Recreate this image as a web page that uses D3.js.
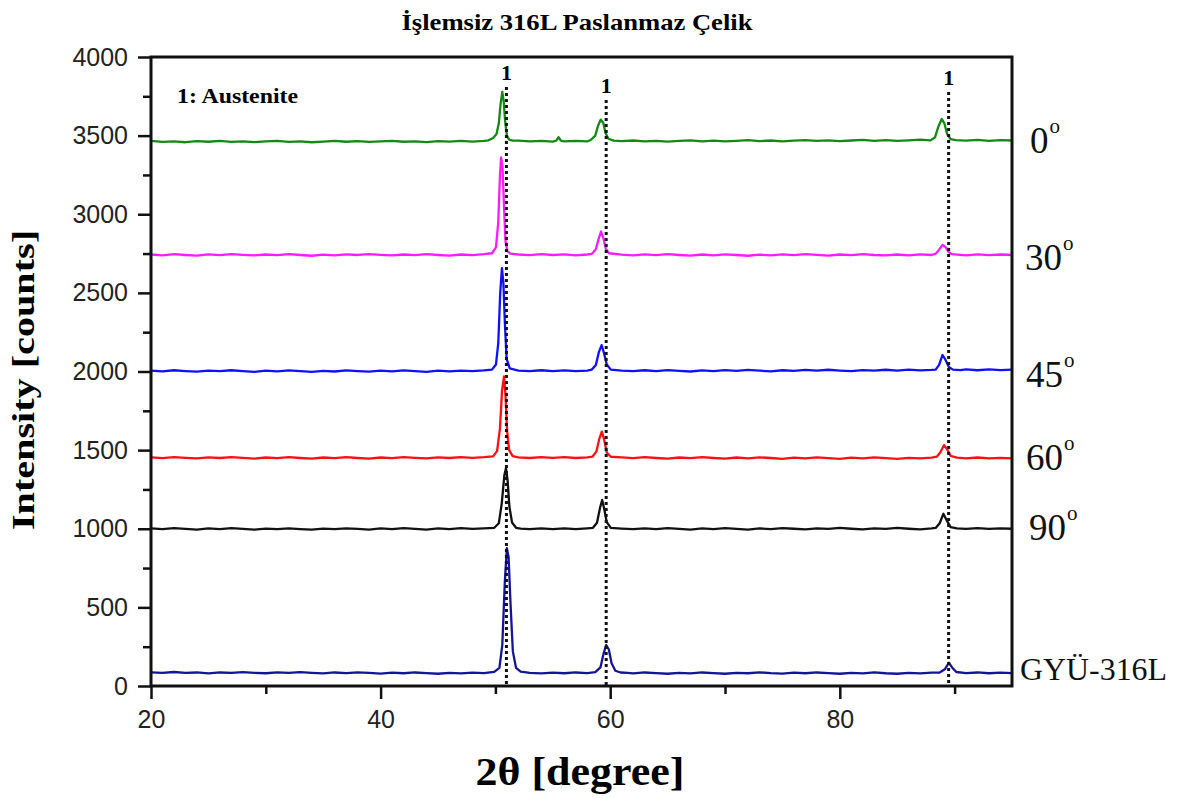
<!DOCTYPE html>
<html>
<head>
<meta charset="utf-8">
<script src="https://cdn.jsdelivr.net/npm/d3@7"></script>
<style>
html,body{margin:0;padding:0;background:#fff;}
svg{display:block;}
</style>
</head>
<body>
<svg id="chart" width="1179" height="798"></svg>
<script>
// ---------- DATA ----------
const chartTitle = "İşlemsiz 316L Paslanmaz Çelik";
const xTitle = "2θ [degree]";
const yTitle = "Intensity [counts]";
const xMajorTicks = [20, 40, 60, 80];
const xMinorTicks = [30, 50, 70, 90];
const yMajorTicks = [0, 500, 1000, 1500, 2000, 2500, 3000, 3500, 4000];
const yMinorTicks = [250, 750, 1250, 1750, 2250, 2750, 3250, 3750];
const phaseLines = [50.96, 59.65, 89.48];
const phaseLabels = ["1", "1", "1"];
const phaseNote = "1: Austenite";
const seriesNames = ["0", "30", "45", "60", "90", "GYÜ-316L"];
const seriesColors = ["#138a13", "#ff1aff", "#1010ff", "#ff1010", "#111111", "#14149a"];

// 0° (green)
const s0 = [[20,3466],[21,3460],[22,3463],[23,3458],[24,3465],[25,3461],[26,3467],[27,3460],[28,3464],[29,3459],[30,3463],[31,3466],[32,3460],[33,3464],[34,3458],[35,3462],[36,3467],[37,3461],[38,3465],[39,3460],[40,3463],[41,3467],[42,3461],[43,3464],[44,3459],[45,3465],[46,3462],[47,3466],[48,3462],[49,3466],
 [49.4,3470],[49.8,3485],[50.1,3510],[50.3,3580],[50.45,3700],[50.6,3778],[50.72,3720],[50.85,3590],[51.0,3500],[51.2,3475],[51.5,3468],[52,3468],[53,3463],[54,3466],[55,3462],[55.3,3468],[55.5,3490],[55.7,3468],[56,3464],[57,3467],[58,3463],
 [58.3,3472],[58.7,3500],[58.95,3565],[59.18,3602],[59.4,3580],[59.6,3515],[59.85,3480],[60.3,3468],
 [61,3465],[62,3469],[63,3463],[64,3467],[65,3462],[66,3466],[67,3470],[68,3464],[69,3468],[70,3463],[71,3467],[72,3471],[73,3465],[74,3469],[75,3464],[76,3468],[77,3472],[78,3466],[79,3470],[80,3465],[81,3469],[82,3473],[83,3467],[84,3471],[85,3466],[86,3470],[87,3474],
 [87.9,3470],[88.3,3490],[88.6,3560],[88.88,3606],[89.1,3580],[89.35,3510],[89.65,3478],[90.1,3472],[91,3468],[92,3473],[93,3467],[94,3471],[95,3469]];

// 30° (magenta)
const s30 = [[20,2744],[21,2739],[22,2746],[23,2741],[24,2737],[25,2745],[26,2740],[27,2747],[28,2742],[29,2738],[30,2744],[31,2740],[32,2746],[33,2741],[34,2736],[35,2743],[36,2739],[37,2745],[38,2741],[39,2747],[40,2742],[41,2738],[42,2744],[43,2740],[44,2746],[45,2741],[46,2737],[47,2744],[48,2740],[49,2746],
 [49.7,2752],[50.05,2790],[50.25,2950],[50.4,3250],[50.5,3362],[50.62,3300],[50.75,3050],[50.88,2830],[51.05,2765],[51.3,2750],[52,2744],[53,2740],[54,2746],[55,2741],[56,2745],[57,2739],[58,2744],
 [58.4,2748],[58.75,2778],[59.0,2845],[59.2,2890],[59.4,2850],[59.62,2780],[59.9,2752],
 [61,2743],[62,2738],[63,2745],[64,2740],[65,2746],[66,2741],[67,2737],[68,2744],[69,2739],[70,2745],[71,2741],[72,2736],[73,2743],[74,2739],[75,2745],[76,2740],[77,2746],[78,2742],[79,2737],[80,2744],[81,2740],[82,2746],[83,2741],[84,2738],[85,2744],[86,2739],[87,2745],[88,2741],
 [88.35,2748],[88.65,2775],[88.95,2805],[89.2,2792],[89.45,2762],[89.75,2746],[90.5,2742],[91,2739],[92,2745],[93,2740],[94,2744],[95,2741]];

// 45° (blue)
const s45 = [[20,2006],[21,2001],[22,2008],[23,2003],[24,1999],[25,2006],[26,2002],[27,2008],[28,2003],[29,1998],[30,2005],[31,2001],[32,2007],[33,2002],[34,1998],[35,2004],[36,2000],[37,2007],[38,2003],[39,1999],[40,2005],[41,2001],[42,2007],[43,2002],[44,1998],[45,2005],[46,2001],[47,2006],[48,2002],[49,2007],
 [49.7,2012],[50.05,2045],[50.25,2180],[50.42,2500],[50.57,2658],[50.7,2560],[50.83,2300],[50.98,2080],[51.25,2020],[52,2006],[53,2002],[54,2008],[55,2003],[56,2007],[57,2002],[58,2006],
 [58.4,2012],[58.75,2042],[59.02,2125],[59.25,2168],[59.47,2115],[59.7,2045],[60.05,2012],
 [61,2006],[62,2002],[63,2008],[64,2003],[65,2009],[66,2004],[67,2000],[68,2007],[69,2003],[70,2009],[71,2004],[72,2010],[73,2005],[74,2001],[75,2008],[76,2004],[77,2010],[78,2005],[79,2011],[80,2006],[81,2002],[82,2009],[83,2005],[84,2011],[85,2006],[86,2012],[87,2007],[88,2010],
 [88.35,2012],[88.65,2042],[88.95,2105],[89.2,2075],[89.5,2028],[89.85,2012],[90.5,2009],[91,2013],[92,2008],[93,2014],[94,2009],[95,2012]];

// 60° (red)
const s60 = [[20,1454],[21,1449],[22,1456],[23,1451],[24,1447],[25,1454],[26,1450],[27,1456],[28,1451],[29,1446],[30,1453],[31,1449],[32,1455],[33,1450],[34,1446],[35,1453],[36,1449],[37,1455],[38,1450],[39,1446],[40,1453],[41,1449],[42,1455],[43,1451],[44,1447],[45,1454],[46,1450],[47,1456],[48,1451],[49,1455],
 [49.8,1460],[50.15,1495],[50.4,1640],[50.58,1880],[50.75,1968],[50.88,1850],[51.02,1620],[51.2,1500],[51.5,1462],[52,1454],[53,1450],[54,1456],[55,1451],[56,1455],[57,1450],[58,1454],
 [58.45,1458],[58.8,1492],[59.05,1572],[59.27,1618],[59.48,1565],[59.7,1485],[60.05,1458],
 [61,1454],[62,1449],[63,1455],[64,1450],[65,1446],[66,1453],[67,1449],[68,1455],[69,1450],[70,1446],[71,1453],[72,1448],[73,1454],[74,1450],[75,1445],[76,1452],[77,1448],[78,1454],[79,1449],[80,1445],[81,1452],[82,1448],[83,1454],[84,1449],[85,1445],[86,1451],[87,1447],[88,1452],
 [88.45,1458],[88.75,1485],[89.08,1532],[89.35,1505],[89.65,1464],[90.2,1452],[91,1448],[92,1453],[93,1447],[94,1451],[95,1448]];

// 90° (black)
const s90 = [[20,1002],[21,997],[22,1004],[23,999],[24,995],[25,1002],[26,998],[27,1004],[28,999],[29,995],[30,1001],[31,997],[32,1003],[33,998],[34,994],[35,1001],[36,997],[37,1003],[38,999],[39,995],[40,1002],[41,998],[42,1004],[43,999],[44,995],[45,1002],[46,998],[47,1004],[48,999],[49,1003],
 [49.9,1006],[50.3,1035],[50.55,1160],[50.78,1340],[50.92,1385],[51.06,1310],[51.22,1140],[51.45,1040],[51.8,1006],[52.2,1001],[53,997],[54,1003],[55,998],[56,1002],[57,997],[58,1003],
 [58.5,1006],[58.85,1038],[59.12,1135],[59.3,1183],[59.48,1125],[59.7,1042],[60.05,1005],
 [61,1001],[62,997],[63,1003],[64,998],[65,1004],[66,999],[67,995],[68,1002],[69,998],[70,1004],[71,999],[72,995],[73,1002],[74,998],[75,1004],[76,1000],[77,996],[78,1003],[79,999],[80,1005],[81,1000],[82,996],[83,1003],[84,999],[85,1005],[86,1000],[87,996],[88,1002],
 [88.35,1005],[88.7,1035],[89.02,1095],[89.3,1055],[89.65,1010],[90.2,1003],[91,999],[92,1004],[93,999],[94,1003],[95,1000]];

// GYÜ-316L (navy)
const sGYU = [[20,87],[21,84],[22,89],[23,84],[24,86],[25,80],[26,86],[27,83],[28,88],[29,84],[30,81],[31,87],[32,83],[33,88],[34,84],[35,80],[36,86],[37,82],[38,87],[39,83],[40,79],[41,85],[42,81],[43,86],[44,82],[45,78],[46,84],[47,80],[48,85],[49,82],
 [49.9,90],[50.35,115],[50.6,260],[50.82,660],[51.0,877],[51.15,820],[51.32,520],[51.52,220],[51.8,115],[52.2,92],[53,84],[54,80],[55,85],[56,81],[57,86],[58,82],
 [58.7,88],[59.15,118],[59.42,205],[59.65,261],[59.88,232],[60.12,145],[60.45,97],[60.9,86],
 [61.5,84],[62,80],[63,86],[64,82],[65,78],[66,84],[67,80],[68,86],[69,82],[70,78],[71,84],[72,81],[73,87],[74,82],[75,79],[76,85],[77,81],[78,86],[79,82],[80,78],[81,84],[82,80],[83,86],[84,81],[85,78],[86,84],[87,80],[88,85],
 [88.7,86],[89.15,106],[89.5,148],[89.78,118],[90.15,89],[91,82],[92,86],[93,81],[94,85],[95,82]];

const allSeries = [s0, s30, s45, s60, s90, sGYU];

// ---------- LAYOUT ----------
const svg = d3.select("#chart");
const L = 151, R = 1012, T = 57, B = 686;
const x = d3.scaleLinear().domain([20, 95]).range([L, R]);
const y = d3.scaleLinear().domain([0, 4000]).range([B, T]);

const serif = "'Liberation Serif','Times New Roman',serif";
const sans = "'Liberation Sans',Arial,sans-serif";

// series lines
const line = d3.line().x(d => x(d[0])).y(d => y(d[1]));
svg.append("g").selectAll("path").data(allSeries).join("path")
  .attr("d", line)
  .attr("fill", "none")
  .attr("stroke", (d, i) => seriesColors[i])
  .attr("stroke-width", 2.3)
  .attr("stroke-linejoin", "round");

// dotted phase lines
const labelBase = [80, 93, 85];
svg.append("g").selectAll("line").data(phaseLines).join("line")
  .attr("x1", d => x(d)).attr("x2", d => x(d))
  .attr("y1", (d, i) => labelBase[i] + 7).attr("y2", B)
  .attr("stroke", "#111").attr("stroke-width", 3)
  .attr("stroke-dasharray", "3,3");
svg.append("g").selectAll("text").data(phaseLines).join("text")
  .attr("x", d => x(d)).attr("y", (d, i) => labelBase[i])
  .attr("text-anchor", "middle")
  .attr("font-family", serif).attr("font-weight", "bold").attr("font-size", 22)
  .text((d, i) => phaseLabels[i]);

// axes
const xAxisMaj = svg.append("g").attr("transform", `translate(0,${B})`)
  .call(d3.axisBottom(x).tickValues(xMajorTicks).tickSize(13).tickPadding(11).tickFormat(d3.format("d")));
const xAxisMin = svg.append("g").attr("transform", `translate(0,${B})`)
  .call(d3.axisBottom(x).tickValues(xMinorTicks).tickSize(8).tickFormat(""));
const yAxisMaj = svg.append("g").attr("transform", `translate(${L},0)`)
  .call(d3.axisLeft(y).tickValues(yMajorTicks).tickSize(13).tickPadding(10).tickFormat(d3.format("d")));
const yAxisMin = svg.append("g").attr("transform", `translate(${L},0)`)
  .call(d3.axisLeft(y).tickValues(yMinorTicks).tickSize(8).tickFormat(""));
[xAxisMaj, xAxisMin, yAxisMaj, yAxisMin].forEach(g => {
  g.select(".domain").remove();
  g.selectAll(".tick line").attr("stroke", "#111").attr("stroke-width", 2.5);
  g.selectAll(".tick text").attr("font-family", sans).attr("font-size", 25).attr("fill", "#222");
});

// frame
svg.append("rect").attr("x", L).attr("y", T).attr("width", R - L).attr("height", B - T)
  .attr("fill", "none").attr("stroke", "#111").attr("stroke-width", 3);

// title
svg.append("text").attr("x", 577).attr("y", 30).attr("text-anchor", "middle")
  .attr("font-family", serif).attr("font-weight", "bold").attr("font-size", 22.5)
  .attr("textLength", 351).attr("lengthAdjust", "spacingAndGlyphs")
  .text(chartTitle);

// note
svg.append("text").attr("x", 177).attr("y", 103)
  .attr("font-family", serif).attr("font-weight", "bold").attr("font-size", 22)
  .attr("textLength", 121).attr("lengthAdjust", "spacingAndGlyphs")
  .text(phaseNote);

// axis titles
svg.append("text").attr("x", 580).attr("y", 785).attr("text-anchor", "middle")
  .attr("font-family", serif).attr("font-weight", "bold").attr("font-size", 40)
  .attr("textLength", 209).attr("lengthAdjust", "spacingAndGlyphs")
  .text(xTitle);
svg.append("text").attr("transform", "translate(34,380) rotate(-90)").attr("text-anchor", "middle")
  .attr("font-family", serif).attr("font-weight", "bold").attr("font-size", 31)
  .attr("textLength", 300).attr("lengthAdjust", "spacingAndGlyphs")
  .text(yTitle);

// right-side series labels
const rightPos = [[1030, 153], [1025, 270], [1026, 387], [1026, 470], [1029, 540]];
rightPos.forEach((p, i) => {
  const t = svg.append("text").attr("x", p[0]).attr("y", p[1])
    .attr("font-family", serif).attr("font-size", 37).attr("fill", "#111");
  t.append("tspan").text(seriesNames[i]);
  t.append("tspan").attr("font-size", 21).attr("dy", -20).attr("dx", 1).text("o");
});
svg.append("text").attr("x", 1020).attr("y", 680)
  .attr("font-family", serif).attr("font-size", 31).attr("fill", "#111")
  .attr("textLength", 147).attr("lengthAdjust", "spacingAndGlyphs")
  .text(seriesNames[5]);
</script>
</body>
</html>
